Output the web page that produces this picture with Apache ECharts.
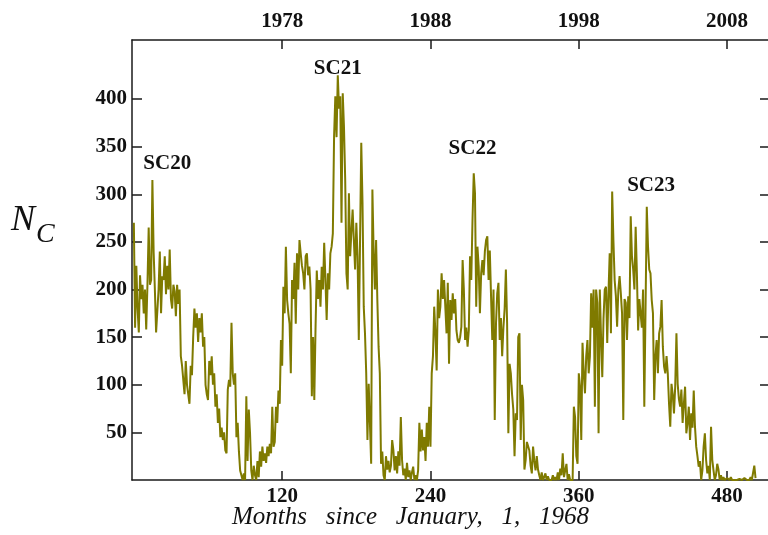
<!DOCTYPE html>
<html lang="en">
<head>
  <meta charset="UTF-8">
  <title>N_C since 1968</title>
  <script src="https://cdn.jsdelivr.net/npm/echarts@6.0.0/dist/echarts.min.js"></script>
  <style>
    html, body { margin: 0; padding: 0; background: #fff; }
    #main { width: 768px; height: 535px; }
  </style>
</head>
<body>
  <div id="main"></div>
  <script>
    // monthly counts, month 0 = January 1968
    var nc1968_72 = [270, 160, 225, 180, 155, 215, 190, 205, 175, 200, 158, 205,
      265, 205, 210, 315, 240, 200, 155, 154, 200, 240, 175, 214,
      210, 235, 195, 225, 200, 242, 190, 180, 205, 198, 172, 205,
      185, 200, 130, 120, 105, 90, 125, 100, 98, 80, 120, 110,
      150, 180, 160, 175, 145, 170, 155, 175, 140, 150, 100, 90]
    var nc1973_77 = [84, 125, 110, 130, 100, 112, 77, 90, 60, 75, 45, 55,
      42, 50, 31, 28, 95, 105, 98, 165, 112, 100, 112, 45,
      60, 30, 10, 5, 0, 7, 0, 88, 20, 74, 49, 10,
      0, 15, 5, 0, 20, 3, 30, 14, 35, 20, 28, 18,
      35, 25, 38, 28, 77, 35, 40, 77, 60, 94, 80, 147]
    var nc1978_82 = [120, 203, 175, 245, 189, 175, 164, 112, 210, 190, 228, 164,
      238, 200, 252, 238, 225, 217, 200, 235, 238, 215, 224, 200,
      88, 150, 84, 160, 220, 190, 210, 182, 224, 200, 249, 210,
      168, 217, 200, 238, 245, 259, 361, 403, 360, 425, 390, 403,
      270, 406, 371, 315, 217, 200, 301, 235, 260, 284, 252, 221]
    var nc1983_87 = [270, 235, 147, 250, 354, 291, 182, 154, 112, 42, 101, 60,
      17, 305, 240, 200, 252, 189, 140, 112, 17, 30, 5, 0,
      25, 11, 20, 8, 15, 42, 31, 10, 25, 7, 30, 15,
      66, 21, 5, 12, 0, 18, 3, 10, 0, 8, 14, 0,
      5, 0, 10, 60, 30, 53, 31, 45, 20, 60, 35, 77]
    var nc1988_92 = [35, 112, 130, 182, 154, 115, 200, 170, 182, 217, 190, 210,
      182, 154, 207, 122, 189, 168, 196, 175, 190, 157, 147, 144,
      150, 161, 231, 200, 147, 160, 140, 157, 235, 210, 273, 322,
      301, 182, 245, 224, 175, 217, 231, 215, 240, 252, 256, 210,
      241, 193, 147, 200, 63, 164, 196, 207, 147, 170, 130, 160]
    var nc1993_97 = [180, 221, 164, 49, 122, 112, 90, 74, 25, 70, 63, 150,
      154, 42, 100, 84, 11, 21, 40, 42, 31, 15, 7, 35,
      20, 10, 25, 11, 5, 0, 8, 0, 3, 7, 0, 4,
      0, 2, 0, 5, 0, 3, 0, 8, 0, 12, 5, 28,
      3, 10, 17, 0, 6, 0, 2, 0, 77, 66, 25, 17]
    var nc1998_02 = [112, 98, 42, 144, 112, 91, 130, 147, 112, 130, 196, 160,
      200, 77, 200, 186, 49, 200, 150, 108, 170, 200, 203, 144,
      196, 238, 154, 303, 252, 210, 193, 161, 200, 214, 196, 175,
      63, 190, 186, 147, 193, 170, 277, 235, 221, 200, 266, 217,
      157, 190, 175, 160, 200, 77, 180, 287, 245, 221, 217, 189]
    var nc2003_07 = [175, 84, 130, 147, 112, 154, 161, 189, 140, 119, 112, 130,
      112, 80, 56, 101, 90, 70, 98, 154, 101, 85, 77, 95,
      60, 80, 98, 49, 60, 77, 42, 70, 55, 94, 56, 35,
      25, 14, 20, 0, 10, 35, 49, 21, 7, 15, 0, 56,
      21, 10, 0, 5, 17, 11, 0, 5, 0, 3, 0, 0]
    var nc2008_09 = [2, 0, 0, 3, 0, 0, 0, 2, 0, 0, 1, 0,
      0, 0, 2, 0, 0, 0, 0, 3, 0, 0, 15, 2]

    var monthTicks = [120, 240, 360, 480]
    var valueTicks = [50, 100, 150, 200, 250, 300, 350, 400]
    var cycles = [
      { name: 'SC20', month: 27, value: 332 },
      { name: 'SC21', month: 165, value: 432 },
      { name: 'SC22', month: 274, value: 348 },
      { name: 'SC23', month: 418.5, value: 309 }
    ]

    var counts = [].concat(nc1968_72, nc1973_77, nc1978_82, nc1983_87,
      nc1988_92, nc1993_97, nc1998_02, nc2003_07, nc2008_09)

    var serif = '"Liberation Serif", "DejaVu Serif", serif'
    var lineCol = '#1a1a1a'
    var axisLine = { onZero: false, lineStyle: { color: lineCol, width: 1.5 } }
    var labelStyle = { color: '#111', fontFamily: serif, fontWeight: 'bold', fontSize: 21 }

    var myChart = echarts.init(document.getElementById('main'))
    var option = {
      animation: false,
      // right border sits just past the picture's edge, as in the original
      grid: { left: 132, top: 40, width: 638, height: 440, outerBoundsMode: 'none' },
      xAxis: [
        {
          type: 'value', position: 'bottom', min: -1.5, max: 514.7,
          axisLine: axisLine,
          splitLine: { show: false },
          axisTick: { inside: true, length: 9, customValues: monthTicks, lineStyle: { color: lineCol, width: 1.5 } },
          axisLabel: Object.assign({ customValues: monthTicks, margin: 6 }, labelStyle)
        },
        {
          type: 'value', position: 'top', min: -1.5, max: 514.7,
          axisLine: axisLine,
          splitLine: { show: false },
          axisTick: { inside: true, length: 9, customValues: monthTicks, lineStyle: { color: lineCol, width: 1.5 } },
          axisLabel: Object.assign({
            customValues: monthTicks, margin: 8,
            formatter: function (v) { return String(1968 + v / 12) }
          }, labelStyle)
        }
      ],
      yAxis: [
        {
          type: 'value', position: 'left', min: 0, max: 462,
          axisLine: axisLine,
          splitLine: { show: false },
          axisTick: { inside: true, length: 10, customValues: valueTicks, lineStyle: { color: lineCol, width: 1.5 } },
          axisLabel: Object.assign({ customValues: valueTicks, margin: 5 }, labelStyle)
        },
        {
          type: 'value', position: 'right', min: 0, max: 462,
          axisLine: axisLine,
          splitLine: { show: false },
          axisTick: { inside: true, length: 10, customValues: valueTicks, lineStyle: { color: lineCol, width: 1.5 } },
          axisLabel: { show: false }
        }
      ],
      series: [
        {
          type: 'line',
          data: counts.map(function (v, i) { return [i, v] }),
          showSymbol: false,
          lineStyle: { color: '#7f7a00', width: 2 },
          markPoint: {
            symbol: 'rect',
            symbolSize: 1,
            itemStyle: { color: 'transparent' },
            label: {
              show: true, position: 'inside',
              formatter: '{b}',
              color: '#111', fontFamily: serif, fontWeight: 'bold', fontSize: 21
            },
            data: cycles.map(function (c) { return { name: c.name, coord: [c.month, c.value] } })
          }
        }
      ],
      graphic: [
        {
          type: 'text', left: 232, top: 505,
          style: { text: 'Months   since   January,   1,   1968', font: 'italic 25px ' + serif, fill: '#111' }
        },
        {
          type: 'text', left: 11, top: 203,
          style: { text: 'N', font: 'italic 36px ' + serif, fill: '#111' }
        },
        {
          type: 'text', left: 36, top: 221,
          style: { text: 'C', font: 'italic 28px ' + serif, fill: '#111' }
        }
      ]
    }
    myChart.setOption(option)
  </script>
</body>
</html>
